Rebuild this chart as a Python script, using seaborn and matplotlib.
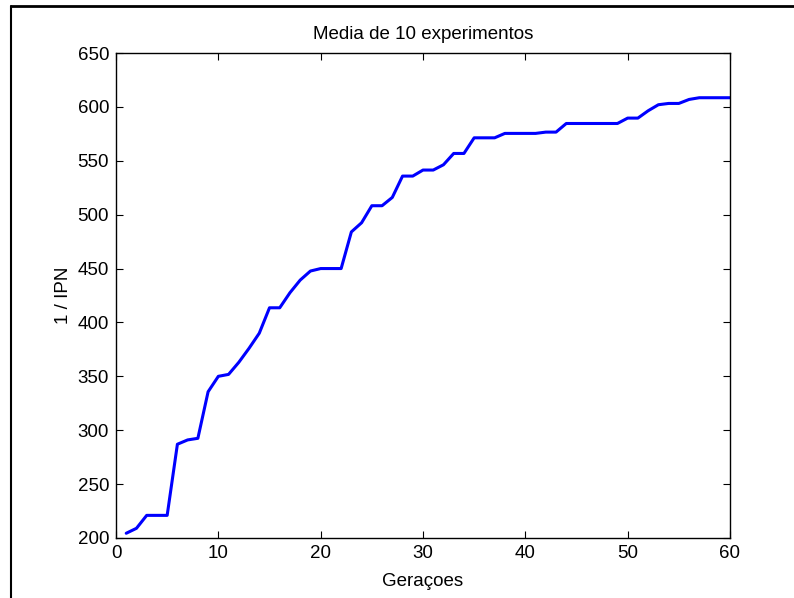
import matplotlib
matplotlib.use("Agg")
import matplotlib.pyplot as plt
import seaborn as sns
import pandas as pd
from matplotlib.lines import Line2D

generations = list(range(1, 61))
values = [204.4, 209, 221, 221, 221, 287, 291, 292.5, 335.7, 350,
          351.8, 363, 376, 390, 413.6, 413.6, 427.6, 439.3, 447.7, 450,
          450, 450, 484, 492.5, 508.3, 508.3, 516, 535.8, 535.8, 541.4,
          541.4, 546.3, 556.8, 556.8, 571.3, 571.3, 571.3, 575.4, 575.4, 575.4,
          575.4, 576.6, 576.6, 584.6, 584.6, 584.6, 584.6, 584.6, 584.6, 589.6,
          589.6, 596.4, 602, 603.2, 603.2, 606.9, 608.5, 608.5, 608.5, 608.5]
xticks = [0, 10, 20, 30, 40, 50, 60]
yticks = [200, 250, 300, 350, 400, 450, 500, 550, 600, 650]

df = pd.DataFrame({"Geraçoes": generations, "val": values})

sns.set_style("ticks")
plt.rcParams['font.family'] = ['Liberation Sans', 'DejaVu Sans']
plt.rcParams['text.color'] = 'black'
plt.rcParams['axes.labelcolor'] = 'black'

fig = plt.figure(figsize=(7.94, 5.98), dpi=100)
W, H = 794, 598
ax = fig.add_axes([116 / W, 1 - 538 / H, (730 - 116) / W, (538 - 53) / H])

sns.lineplot(data=df, x="Geraçoes", y="val", ax=ax, color=(0, 0, 1), linewidth=2.2)

ax.set_xlim(0, 60)
ax.set_ylim(200, 650)
ax.set_xticks(xticks)
ax.set_yticks(yticks)
ax.tick_params(direction='in', length=5, width=0.8, top=True, right=True,
               labelsize=13.5, colors='black', pad=5)
for s in ax.spines.values():
    s.set_visible(True)
    s.set_linewidth(1.0)
    s.set_color('black')
ax.set_xlabel("Geraçoes", fontsize=13.5, labelpad=8, color='black')
ax.set_ylabel("1 / IPN", fontsize=13.5, labelpad=4, color='black')
ax.set_title("Media de 10 experimentos", fontsize=13.5, pad=10, color='black')

# partial outer frame (top and left)
fig.add_artist(Line2D([11 / W, 1.0], [1 - 6 / H, 1 - 6 / H], color='black', linewidth=2, transform=fig.transFigure))
fig.add_artist(Line2D([11 / W, 11 / W], [0.0, 1 - 6 / H], color='black', linewidth=1.5, transform=fig.transFigure))

fig.savefig("out.png", dpi=100)
